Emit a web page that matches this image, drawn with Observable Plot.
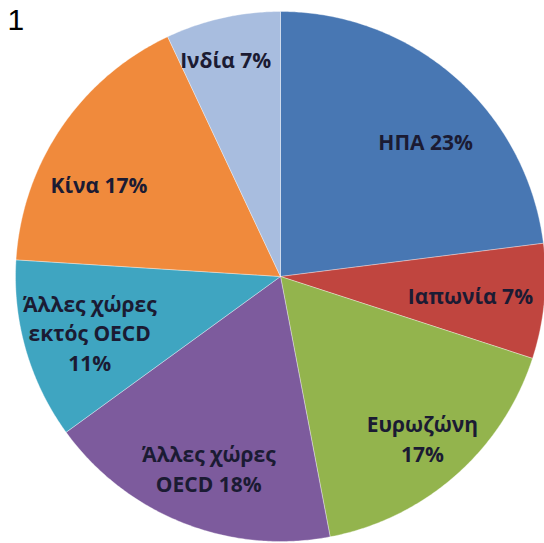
<!DOCTYPE html>
<html>
<head>
<meta charset="utf-8">
<script src="https://cdn.jsdelivr.net/npm/d3@7"></script>
<script src="https://cdn.jsdelivr.net/npm/@observablehq/plot@0.6"></script>
<style>
  html, body { margin: 0; padding: 0; background: #ffffff; }
  #chart { width: 544px; height: 543px; overflow: hidden; }
</style>
</head>
<body>
<div id="chart"></div>
<script>
// ---- data ----
const categories = ["ΗΠΑ", "Ιαπωνία", "Ευρωζώνη", "Άλλες χώρες OECD", "Άλλες χώρες εκτός OECD", "Κίνα", "Ινδία"];
const shares = [23, 7, 17, 18, 11, 17, 7];
const labelNames = ["ΗΠΑ", "Ιαπωνία", "Ευρωζώνη\n", "Άλλες χώρες\nOECD", "Άλλες χώρες\nεκτός OECD\n", "Κίνα", "Ινδία"];
const sliceColors = ["#4877b3", "#c0453f", "#93b44d", "#7d5b9d", "#3fa5c1", "#f08a3c", "#a8bddf"];
const panelNumber = "1";

// ---- layout (not data) ----
const cx = 280, cy = 276, R = 265, W = 544, H = 543;
const labelR = [0.75, 0.72, 0.81, 0.77, 0.75, 0.77, 0.85];   // fraction of radius
const labelDA = [5.5, 0, 0, -1, 0, -7, -1.5];               // angular nudge (deg)

const total = d3.sum(shares);
const slices = [];
const labels = [];
let acc = 0;
categories.forEach((c, i) => {
  const a0 = acc / total * 360;
  acc += shares[i];
  const a1 = acc / total * 360;
  const n = Math.max(2, Math.ceil((a1 - a0) / 0.5));
  slices.push({cat: c, x: 0, y: 0});
  for (let j = 0; j <= n; j++) {
    const a = (a0 + (a1 - a0) * j / n) * Math.PI / 180;
    slices.push({cat: c, x: Math.sin(a), y: Math.cos(a)});
  }
  slices.push({cat: c, x: 0, y: 0});
  const am = ((a0 + a1) / 2 + labelDA[i]) * Math.PI / 180;
  labels.push({
    cat: c,
    text: labelNames[i] + (labelNames[i].endsWith("\n") ? "" : " ") + shares[i] + "%",
    x: labelR[i] * Math.sin(am),
    y: labelR[i] * Math.cos(am)
  });
});

const chart = Plot.plot({
  width: W,
  height: H,
  margin: 0,
  x: {domain: [-cx / R, (W - cx) / R], range: [0, W], axis: null},
  y: {domain: [-(H - cy) / R, cy / R], range: [H, 0], axis: null},
  color: {domain: categories, range: sliceColors},
  style: {background: "#ffffff"},
  marks: [
    Plot.line(slices, {
      x: "x", y: "y", z: "cat", fill: "cat",
      stroke: "#ffffff", strokeWidth: 1, strokeOpacity: 0.35,
      curve: "linear"
    }),
    Plot.text(labels, {
      x: "x", y: "y", text: "text",
      fontFamily: "'Open Sans', sans-serif",
      fontWeight: 700,
      fontSize: 21,
      lineHeight: 1.42,
      fill: "#1b1b33"
    }),
    Plot.text([panelNumber], {
      text: d => d,
      frameAnchor: "top-left",
      textAnchor: "start",
      lineAnchor: "bottom",
      dx: 7, dy: 29,
      fontFamily: "'Liberation Sans', Arial, sans-serif",
      fontSize: 30,
      fill: "#000000"
    })
  ]
});
document.getElementById("chart").appendChild(chart);
</script>
</body>
</html>
